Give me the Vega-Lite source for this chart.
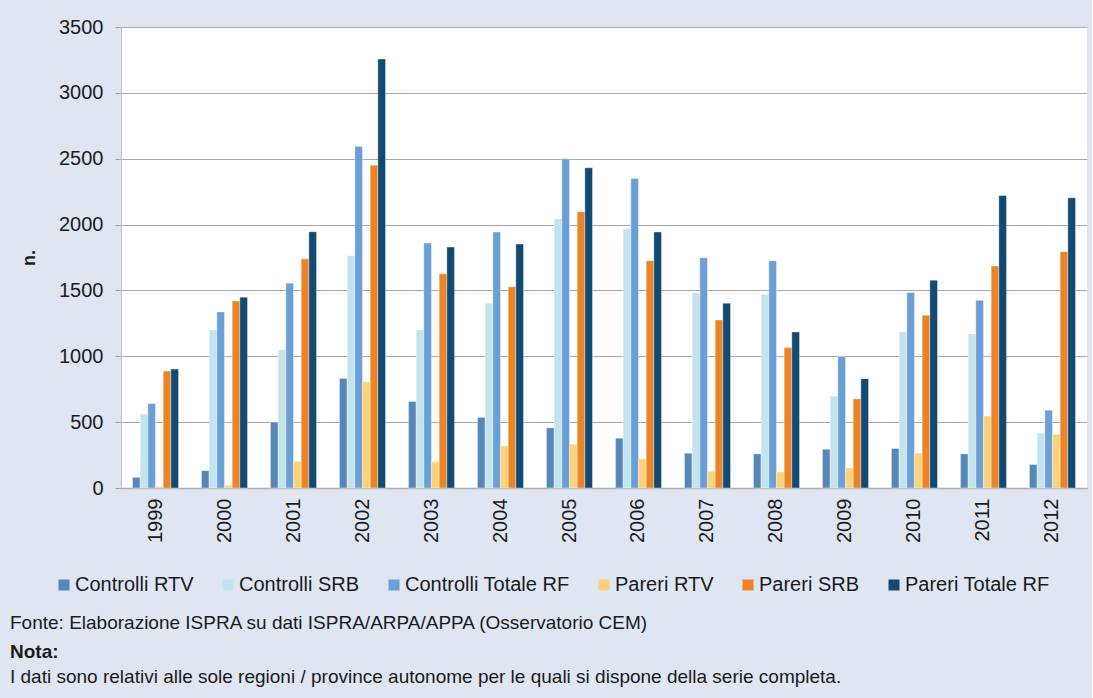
{
  "$schema": "https://vega.github.io/schema/vega-lite/v6.json",
  "background": "#dfe6f2",
  "padding": {"left": 10, "top": 17, "right": 5, "bottom": 12},
  "title": {
    "text": "Nota:",
    "subtitle": "I dati sono relativi alle sole regioni / province autonome per le quali si dispone della serie completa.",
    "orient": "bottom",
    "anchor": "start",
    "frame": "bounds",
    "font": "Liberation Sans",
    "fontSize": 19,
    "fontWeight": "bold",
    "color": "#1a1a1a",
    "subtitleFont": "Liberation Sans",
    "subtitleFontSize": 19,
    "subtitleColor": "#1a1a1a",
    "subtitlePadding": 6,
    "offset": 10
  },
  "vconcat": [
    {
      "width": 966,
      "height": 461,
      "title": {
        "text": "Fonte: Elaborazione ISPRA su dati ISPRA/ARPA/APPA (Osservatorio CEM)",
        "orient": "bottom",
        "anchor": "start",
        "frame": "group",
        "dx": -111,
        "font": "Liberation Sans",
        "fontSize": 19,
        "fontWeight": "normal",
        "color": "#1a1a1a",
        "offset": 72
      },
      "data": {
        "values": [
          {"anno": "1999", "serie": "Controlli RTV", "n": 81},
          {"anno": "1999", "serie": "Controlli SRB", "n": 562},
          {"anno": "1999", "serie": "Controlli Totale RF", "n": 640},
          {"anno": "1999", "serie": "Pareri RTV", "n": 12},
          {"anno": "1999", "serie": "Pareri SRB", "n": 888},
          {"anno": "1999", "serie": "Pareri Totale RF", "n": 903},
          {"anno": "2000", "serie": "Controlli RTV", "n": 132},
          {"anno": "2000", "serie": "Controlli SRB", "n": 1200},
          {"anno": "2000", "serie": "Controlli Totale RF", "n": 1337},
          {"anno": "2000", "serie": "Pareri RTV", "n": 20},
          {"anno": "2000", "serie": "Pareri SRB", "n": 1420},
          {"anno": "2000", "serie": "Pareri Totale RF", "n": 1449},
          {"anno": "2001", "serie": "Controlli RTV", "n": 500},
          {"anno": "2001", "serie": "Controlli SRB", "n": 1050},
          {"anno": "2001", "serie": "Controlli Totale RF", "n": 1555},
          {"anno": "2001", "serie": "Pareri RTV", "n": 203},
          {"anno": "2001", "serie": "Pareri SRB", "n": 1740},
          {"anno": "2001", "serie": "Pareri Totale RF", "n": 1946},
          {"anno": "2002", "serie": "Controlli RTV", "n": 832},
          {"anno": "2002", "serie": "Controlli SRB", "n": 1763},
          {"anno": "2002", "serie": "Controlli Totale RF", "n": 2593},
          {"anno": "2002", "serie": "Pareri RTV", "n": 807},
          {"anno": "2002", "serie": "Pareri SRB", "n": 2451},
          {"anno": "2002", "serie": "Pareri Totale RF", "n": 3257},
          {"anno": "2003", "serie": "Controlli RTV", "n": 657},
          {"anno": "2003", "serie": "Controlli SRB", "n": 1200},
          {"anno": "2003", "serie": "Controlli Totale RF", "n": 1860},
          {"anno": "2003", "serie": "Pareri RTV", "n": 201},
          {"anno": "2003", "serie": "Pareri SRB", "n": 1626},
          {"anno": "2003", "serie": "Pareri Totale RF", "n": 1829},
          {"anno": "2004", "serie": "Controlli RTV", "n": 536},
          {"anno": "2004", "serie": "Controlli SRB", "n": 1403},
          {"anno": "2004", "serie": "Controlli Totale RF", "n": 1944},
          {"anno": "2004", "serie": "Pareri RTV", "n": 320},
          {"anno": "2004", "serie": "Pareri SRB", "n": 1527},
          {"anno": "2004", "serie": "Pareri Totale RF", "n": 1852},
          {"anno": "2005", "serie": "Controlli RTV", "n": 457},
          {"anno": "2005", "serie": "Controlli SRB", "n": 2043},
          {"anno": "2005", "serie": "Controlli Totale RF", "n": 2499},
          {"anno": "2005", "serie": "Pareri RTV", "n": 333},
          {"anno": "2005", "serie": "Pareri SRB", "n": 2098},
          {"anno": "2005", "serie": "Pareri Totale RF", "n": 2431},
          {"anno": "2006", "serie": "Controlli RTV", "n": 378},
          {"anno": "2006", "serie": "Controlli SRB", "n": 1969},
          {"anno": "2006", "serie": "Controlli Totale RF", "n": 2349},
          {"anno": "2006", "serie": "Pareri RTV", "n": 221},
          {"anno": "2006", "serie": "Pareri SRB", "n": 1725},
          {"anno": "2006", "serie": "Pareri Totale RF", "n": 1944},
          {"anno": "2007", "serie": "Controlli RTV", "n": 264},
          {"anno": "2007", "serie": "Controlli SRB", "n": 1482},
          {"anno": "2007", "serie": "Controlli Totale RF", "n": 1748},
          {"anno": "2007", "serie": "Pareri RTV", "n": 127},
          {"anno": "2007", "serie": "Pareri SRB", "n": 1276},
          {"anno": "2007", "serie": "Pareri Totale RF", "n": 1403},
          {"anno": "2008", "serie": "Controlli RTV", "n": 259},
          {"anno": "2008", "serie": "Controlli SRB", "n": 1469},
          {"anno": "2008", "serie": "Controlli Totale RF", "n": 1725},
          {"anno": "2008", "serie": "Pareri RTV", "n": 122},
          {"anno": "2008", "serie": "Pareri SRB", "n": 1066},
          {"anno": "2008", "serie": "Pareri Totale RF", "n": 1185},
          {"anno": "2009", "serie": "Controlli RTV", "n": 294},
          {"anno": "2009", "serie": "Controlli SRB", "n": 698},
          {"anno": "2009", "serie": "Controlli Totale RF", "n": 997},
          {"anno": "2009", "serie": "Pareri RTV", "n": 152},
          {"anno": "2009", "serie": "Pareri SRB", "n": 677},
          {"anno": "2009", "serie": "Pareri Totale RF", "n": 830},
          {"anno": "2010", "serie": "Controlli RTV", "n": 300},
          {"anno": "2010", "serie": "Controlli SRB", "n": 1185},
          {"anno": "2010", "serie": "Controlli Totale RF", "n": 1484},
          {"anno": "2010", "serie": "Pareri RTV", "n": 264},
          {"anno": "2010", "serie": "Pareri SRB", "n": 1312},
          {"anno": "2010", "serie": "Pareri Totale RF", "n": 1578},
          {"anno": "2011", "serie": "Controlli RTV", "n": 259},
          {"anno": "2011", "serie": "Controlli SRB", "n": 1170},
          {"anno": "2011", "serie": "Controlli Totale RF", "n": 1426},
          {"anno": "2011", "serie": "Pareri RTV", "n": 546},
          {"anno": "2011", "serie": "Pareri SRB", "n": 1685},
          {"anno": "2011", "serie": "Pareri Totale RF", "n": 2220},
          {"anno": "2012", "serie": "Controlli RTV", "n": 178},
          {"anno": "2012", "serie": "Controlli SRB", "n": 416},
          {"anno": "2012", "serie": "Controlli Totale RF", "n": 591},
          {"anno": "2012", "serie": "Pareri RTV", "n": 408},
          {"anno": "2012", "serie": "Pareri SRB", "n": 1794},
          {"anno": "2012", "serie": "Pareri Totale RF", "n": 2203}
        ]
      },
      "mark": {"type": "bar", "stroke": "#ffffff", "strokeWidth": 0.6, "strokeOpacity": 0.6},
      "encoding": {
        "x": {
          "field": "anno",
          "type": "nominal",
          "sort": null,
          "scale": {"paddingInner": 0.333, "paddingOuter": 0.1667},
          "axis": {
            "title": null,
            "grid": false,
            "labelAngle": -90,
            "labelPadding": 10,
            "ticks": false,
            "domainColor": "#b0b0b0",
            "domainWidth": 1.5,
            "labelFont": "Liberation Sans",
            "labelFontSize": 20,
            "labelColor": "#1a1a1a"
          }
        },
        "xOffset": {
          "field": "serie",
          "type": "nominal",
          "sort": null,
          "scale": {"paddingInner": 0, "paddingOuter": 0}
        },
        "y": {
          "field": "n",
          "type": "quantitative",
          "scale": {"domain": [0, 3500], "nice": false},
          "axis": {
            "title": "n.",
            "grid": true,
            "format": "d",
            "values": [0, 500, 1000, 1500, 2000, 2500, 3000, 3500],
            "titleFont": "Liberation Sans",
            "titleFontSize": 18,
            "titleFontWeight": "bold",
            "titleColor": "#1a1a1a",
            "titlePadding": 20,
            "labelFont": "Liberation Sans",
            "labelFontSize": 20,
            "labelColor": "#1a1a1a",
            "labelPadding": 12,
            "tickSize": 6,
            "tickColor": "#a0a0a0",
            "domainColor": "#c0c0c0",
            "gridColor": "#a8a8a8",
            "gridWidth": 1.2
          }
        },
        "color": {
          "field": "serie",
          "type": "nominal",
          "sort": null,
          "scale": {
            "domain": ["Controlli RTV", "Controlli SRB", "Controlli Totale RF", "Pareri RTV", "Pareri SRB", "Pareri Totale RF"],
            "range": ["#5787b8", "#c4e4ed", "#6aa0d6", "#fdd27a", "#ec8426", "#134a73"]
          },
          "legend": {
            "title": null,
            "orient": "none",
            "direction": "horizontal",
            "legendX": -67,
            "legendY": 548,
            "gridAlign": "none",
            "symbolType": "square",
            "symbolSize": 121,
            "symbolStrokeWidth": 0,
            "labelFont": "Liberation Sans",
            "labelFontSize": 20,
            "labelColor": "#1a1a1a",
            "labelOffset": 1,
            "columnPadding": 24,
            "labelLimit": 400
          }
        }
      }
    }
  ],
  "config": {
    "view": {"fill": "#ffffff", "stroke": null}
  }
}
